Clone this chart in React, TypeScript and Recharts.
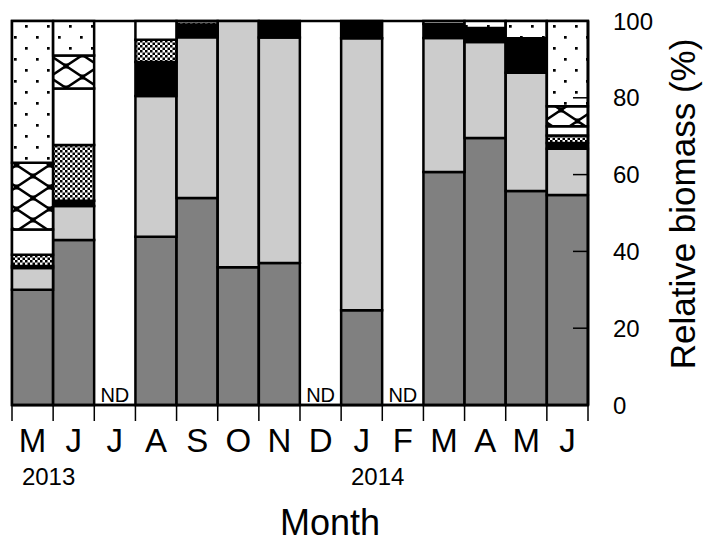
import React from 'react';
import { BarChart, Bar, XAxis, YAxis, ReferenceArea } from 'recharts';

const monthKeys = ['2013-05', '2013-06', '2013-07', '2013-08', '2013-09', '2013-10', '2013-11', '2013-12', '2014-01', '2014-02', '2014-03', '2014-04', '2014-05', '2014-06'];
const monthLabels = ['M', 'J', 'J', 'A', 'S', 'O', 'N', 'D', 'J', 'F', 'M', 'A', 'M', 'J'];
const yearLabels = ['2013', '', '', '', '', '', '', '', '2014', '', '', '', '', ''];
const noDataMonths = ['2013-07', '2013-12', '2014-02'];
const yTicks = [0, 20, 40, 60, 80, 100];

// relative biomass (%) of each group, bottom to top of each stack
const darkGray = [30, 43, 0, 43.8, 53.9, 35.9, 37, 0, 24.7, 0, 60.7, 69.5, 55.7, 54.7];
const lightGray = [5.7, 8.8, 0, 36.7, 41.9, 64.1, 58.7, 0, 70.8, 0, 34.9, 25, 30.8, 12];
const blackGroup = [0.5, 1.4, 0, 8.8, 3.3, 0, 4.3, 0, 4.5, 0, 3.6, 3.7, 9, 1.5];
const checkerGroup = [2.9, 14.5, 0, 5.8, 0.9, 0, 0, 0, 0, 0, 0, 0, 0, 2];
const whiteGroup = [6.6, 14.7, 0, 4.9, 0, 0, 0, 0, 0, 0, 0.8, 0, 0, 2.4];
const crossGroup = [17.4, 8.6, 0, 0, 0, 0, 0, 0, 0, 0, 0, 0, 0, 5.2];
const dotsGroup = [36.9, 9, 0, 0, 0, 0, 0, 0, 0, 0, 0, 1.8, 4.5, 22.2];

const data = monthKeys.map((k, i) => ({
  key: k,
  darkGray: darkGray[i],
  lightGray: lightGray[i],
  blackGroup: blackGroup[i],
  checkerGroup: checkerGroup[i],
  whiteGroup: whiteGroup[i],
  crossGroup: crossGroup[i],
  dotsGroup: dotsGroup[i],
}));

const series = [
  { key: 'darkGray', fill: '#808080' },
  { key: 'lightGray', fill: '#cccccc' },
  { key: 'blackGroup', fill: '#000000' },
  { key: 'checkerGroup', fill: 'url(#pat-checker)' },
  { key: 'whiteGroup', fill: '#ffffff' },
  { key: 'crossGroup', fill: 'url(#pat-cross)' },
  { key: 'dotsGroup', fill: 'url(#pat-dots)' },
];

const FONT = '"Liberation Sans", Arial, Helvetica, sans-serif';
const CHART_W = 703;
const CHART_H = 542;
const MARGIN = { top: 21, right: 0, bottom: 0, left: 12 };
const Y_AXIS_W = 115;
const X_AXIS_H = 137;
const PLOT_W = CHART_W - MARGIN.left - MARGIN.right - Y_AXIS_W;
const BAND = PLOT_W / monthKeys.length;

const MonthTick = (props: any) => {
  const { x, y, payload } = props;
  const i = monthKeys.indexOf(payload.value);
  const left = x - BAND / 2;
  const right = x + BAND / 2;
  return (
    <g>
      <line x1={left} x2={left} y1={y} y2={y + 16} stroke="#000" strokeWidth={1.5} />
      {i === monthKeys.length - 1 && (
        <line x1={right} x2={right} y1={y} y2={y + 16} stroke="#000" strokeWidth={1.5} />
      )}
      <text x={x} y={y + 47} textAnchor="middle" fontFamily={FONT} fontSize={33} fill="#000">
        {monthLabels[i]}
      </text>
      {yearLabels[i] && (
        <text x={x + 16} y={y + 80} textAnchor="middle" fontFamily={FONT} fontSize={24} fill="#000">
          {yearLabels[i]}
        </text>
      )}
    </g>
  );
};

const ValueTick = (props: any) => {
  const { x, y, payload } = props;
  const v = payload.value;
  return (
    <g>
      {v !== 0 && v !== 100 && (
        <line x1={x} x2={x - 15} y1={y} y2={y} stroke="#000" strokeWidth={1.5} />
      )}
      <text x={x + 25} y={y} dy="0.36em" textAnchor="start" fontFamily={FONT} fontSize={24} fill="#000">
        {v}
      </text>
    </g>
  );
};

const YTitle = (props: any) => {
  const vb = props.viewBox || { x: 588, y: 21, width: 115, height: 384 };
  const cx = vb.x + vb.width - 21;
  const cy = vb.y + vb.height / 2 - 9;
  return (
    <text x={cx} y={cy} transform={`rotate(-90 ${cx} ${cy})`} textAnchor="middle" dy="0.36em" fontFamily={FONT} fontSize={35} fill="#000">
      Relative biomass (%)
    </text>
  );
};

const XTitle = (props: any) => {
  const vb = props.viewBox || { x: 12, y: 405, width: 576, height: 137 };
  const cx = vb.x + vb.width / 2 + 30;
  return (
    <text x={cx} y={vb.y + 130} textAnchor="middle" fontFamily={FONT} fontSize={36} fill="#000">
      Month
    </text>
  );
};

export default function App() {
  return (
    <div style={{ position: 'absolute', left: 0, top: 0, background: '#fff' }}>
      <BarChart
        width={CHART_W}
        height={CHART_H}
        data={data}
        margin={MARGIN}
        barCategoryGap={0}
        barGap={0}
      >
        <defs>
          <pattern id="pat-dots" patternUnits="userSpaceOnUse" width={22} height={22}>
            <rect x={0} y={0} width={22} height={22} fill="#fff" />
            <rect x={3} y={3} width={2.7} height={2.7} fill="#000" />
            <rect x={14} y={14} width={2.7} height={2.7} fill="#000" />
          </pattern>
          <pattern id="pat-cross" patternUnits="userSpaceOnUse" width={33} height={22}>
            <rect x={0} y={0} width={33} height={22} fill="#fff" />
            <line x1={0} y1={0} x2={33} y2={22} stroke="#000" strokeWidth={2.5} />
            <line x1={33} y1={0} x2={0} y2={22} stroke="#000" strokeWidth={2.5} />
            <rect x={14} y={8.5} width={5} height={5} fill="#000" />
            <rect x={-2.5} y={-2.5} width={5} height={5} fill="#000" />
            <rect x={30.5} y={-2.5} width={5} height={5} fill="#000" />
            <rect x={-2.5} y={19.5} width={5} height={5} fill="#000" />
            <rect x={30.5} y={19.5} width={5} height={5} fill="#000" />
          </pattern>
          <pattern id="pat-checker" patternUnits="userSpaceOnUse" width={5} height={5}>
            <rect x={0} y={0} width={5} height={5} fill="#fff" />
            <rect x={0} y={0} width={2.5} height={2.5} fill="#000" />
            <rect x={2.5} y={2.5} width={2.5} height={2.5} fill="#000" />
          </pattern>
        </defs>
        <XAxis
          dataKey="key"
          type="category"
          height={X_AXIS_H}
          tickLine={false}
          tickSize={0}
          tickMargin={0}
          axisLine={{ stroke: '#000', strokeWidth: 2.5 }}
          tick={<MonthTick />}
          interval={0}
          label={<XTitle />}
        />
        <YAxis
          orientation="right"
          type="number"
          domain={[0, 100]}
          ticks={yTicks}
          width={Y_AXIS_W}
          tickLine={false}
          tickSize={0}
          tickMargin={0}
          axisLine={{ stroke: '#000', strokeWidth: 2.5 }}
          tick={<ValueTick />}
          interval={0}
          label={<YTitle />}
        />
        {series.map((s) => (
          <Bar
            key={s.key}
            dataKey={s.key}
            stackId="a"
            fill={s.fill}
            stroke="#000"
            strokeWidth={2.5}
            isAnimationActive={false}
          />
        ))}
        {noDataMonths.map((m) => (
          <ReferenceArea
            key={m}
            x1={m}
            x2={m}
            y1={0}
            y2={100}
            fill="none"
            stroke="none"
            ifOverflow="visible"
            label={{ value: 'ND', position: 'insideBottom', offset: 3, fontSize: 20, fill: '#000', fontFamily: FONT }}
          />
        ))}
        <ReferenceArea
          x1={monthKeys[0]}
          x2={monthKeys[monthKeys.length - 1]}
          y1={0}
          y2={100}
          fill="none"
          stroke="#000"
          strokeWidth={2.5}
          ifOverflow="visible"
        />
      </BarChart>
    </div>
  );
}
